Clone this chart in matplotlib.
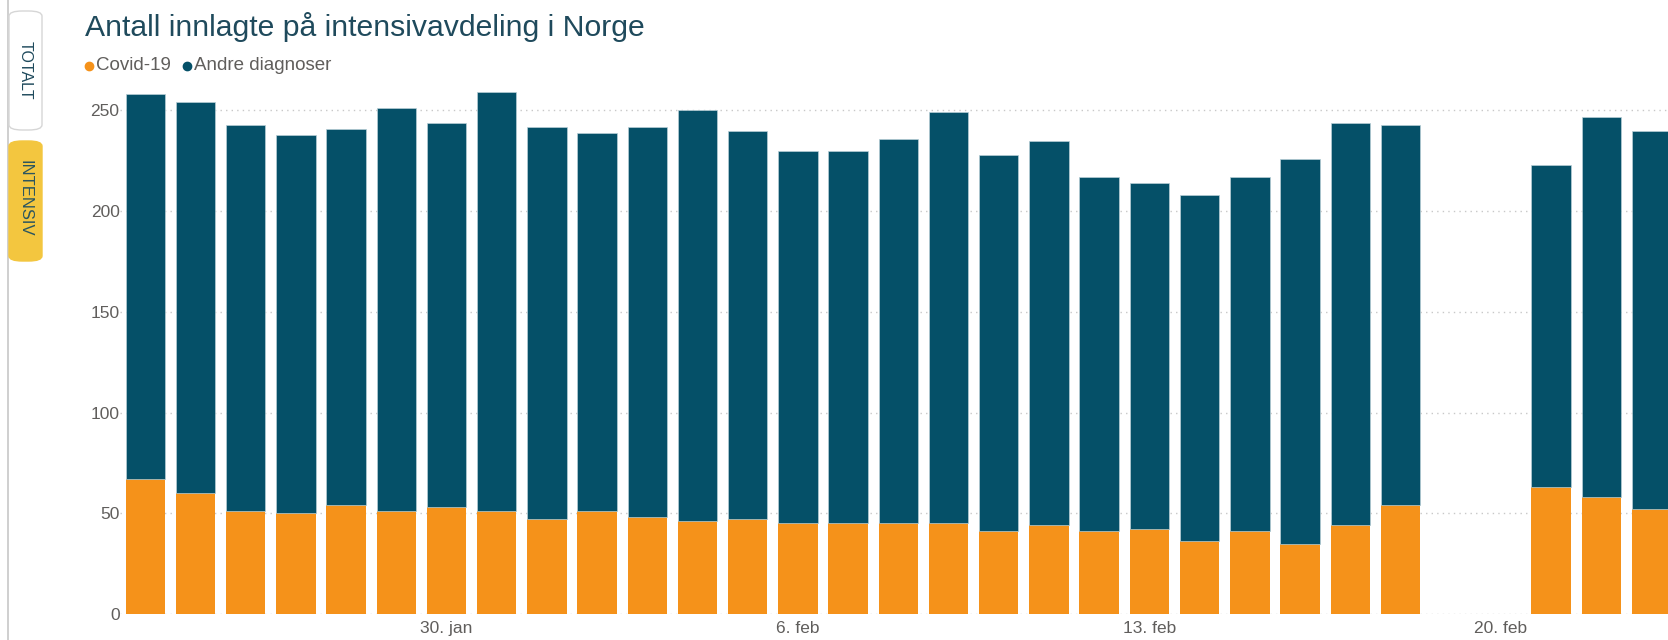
import matplotlib
matplotlib.use("Agg")
import matplotlib.pyplot as plt
from matplotlib.patches import FancyBboxPatch, Rectangle
from matplotlib.lines import Line2D
import numpy as np
import pandas as pd

nan = np.nan
dates = pd.date_range("2022-01-24", "2022-02-23")
covid = [67, 60, 51, 50, 54, 51, 53, 51, 47, 51, 48, 46, 47, 45, 45, 45,
         45, 41, 44, 41, 42, 36, 41, 35, 44, 54, nan, nan, 63, 58, 52]
andre = [191, 194, 192, 188, 187, 200, 191, 208, 195, 188, 194, 204, 193, 185, 185, 191,
         204, 187, 191, 176, 172, 172, 176, 191, 200, 189, nan, nan, 160, 189, 188]
yticks = [0, 50, 100, 150, 200, 250]
maaned = {1: "jan", 2: "feb"}

ORANGE = "#f5921a"
TEAL = "#055068"
TXT = "#605e5c"
W, H = 1668, 640

fig = plt.figure(figsize=(W / 100, H / 100), dpi=100)
fig.patch.set_facecolor("white")
plt.rcParams["font.family"] = ["Liberation Sans", "DejaVu Sans"]


def fx(px):
    return px / W


def fy(py):
    return 1 - py / H


# plot area in pixels
left, right, top, bottom = 120.2, 1668, 86.3, 614
ax = fig.add_axes([fx(left), fy(bottom), fx(right - left), (bottom - top) / H])
x = np.arange(len(dates))
covid = np.array(covid, dtype=float)
andre = np.array(andre, dtype=float)
ax.bar(x, covid, width=0.785, color=ORANGE, zorder=3)
ax.bar(x, andre, bottom=covid, width=0.785, color=TEAL, zorder=3,
       edgecolor="#b8cfd6", linewidth=0.5)

ax.set_xlim(-0.5, 30.33)
ax.set_ylim(0, 262)
ax.set_yticks(yticks)
ax.yaxis.grid(True, linestyle=(0, (1, 3)), color="#c8c8c8", linewidth=1, zorder=0)
ax.set_axisbelow(True)
for s in ax.spines.values():
    s.set_visible(False)
ax.tick_params(axis="y", length=0, pad=0.5, labelsize=12.5, labelcolor=TXT)
tick_idx = [6, 13, 20, 27]
ax.set_xticks(tick_idx)
ax.set_xticklabels([f"{dates[i].day}. {maaned[dates[i].month]}" for i in tick_idx])
ax.tick_params(axis="x", length=0, pad=5, labelsize=12.5, labelcolor=TXT)

# title and legend
fig.text(fx(85), fy(27), "Antall innlagte på intensivavdeling i Norge",
         fontsize=21.7, color="#1f4a5c", va="center", ha="left")
fig.add_artist(Line2D([fx(89)], [fy(66)], marker="o", markersize=6,
                      color=ORANGE, linestyle="none"))
fig.text(fx(96), fy(66), "Covid-19", fontsize=13.5, color=TXT, va="center")
fig.add_artist(Line2D([fx(187)], [fy(66)], marker="o", markersize=6,
                      color=TEAL, linestyle="none"))
fig.text(fx(194), fy(66), "Andre diagnoser", fontsize=13.5, color=TXT, va="center")

# side tabs
fig.add_artist(Rectangle((fx(7), 0), fx(2), 1, color="#d0d0d0", lw=0))
fig.add_artist(FancyBboxPatch((fx(9), fy(130)), fx(33), (130 - 11) / H,
                              boxstyle="round,pad=0,rounding_size=0.008",
                              facecolor="white", edgecolor="#d6d6d6", lw=1))
fig.text(fx(25), fy(70), "TOTALT", rotation=270, fontsize=11.5,
         color="#1f4a5c", ha="center", va="center")
fig.add_artist(FancyBboxPatch((fx(9), fy(261)), fx(33), (261 - 141) / H,
                              boxstyle="round,pad=0,rounding_size=0.008",
                              facecolor="#f3c63f", edgecolor="#f3c63f", lw=1))
fig.text(fx(25), fy(198), "INTENSIV", rotation=270, fontsize=12,
         color="#2a5560", ha="center", va="center")

fig.savefig("out.png", dpi=100, facecolor="white")
